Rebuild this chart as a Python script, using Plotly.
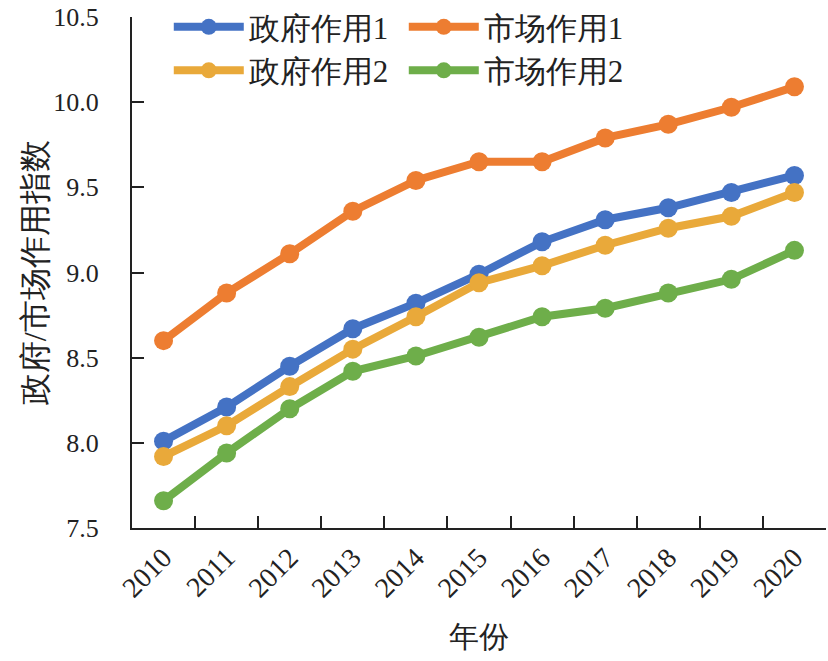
import plotly.graph_objects as go

years = ["2010", "2011", "2012", "2013", "2014", "2015", "2016", "2017", "2018", "2019", "2020"]
gov1 = [8.01, 8.21, 8.45, 8.67, 8.82, 8.99, 9.18, 9.31, 9.38, 9.47, 9.57]
mkt1 = [8.60, 8.88, 9.11, 9.36, 9.54, 9.65, 9.65, 9.79, 9.87, 9.97, 10.09]
gov2 = [7.92, 8.10, 8.33, 8.55, 8.74, 8.94, 9.04, 9.16, 9.26, 9.33, 9.47]
mkt2 = [7.66, 7.94, 8.20, 8.42, 8.51, 8.62, 8.74, 8.79, 8.88, 8.96, 9.13]

series = [
    ("政府作用1", gov1, "#4472C4", "legend"),
    ("市场作用1", mkt1, "#ED7D31", "legend"),
    ("政府作用2", gov2, "#E9A93A", "legend2"),
    ("市场作用2", mkt2, "#6EAE4A", "legend2"),
]

FONT = "Liberation Serif"

fig = go.Figure()
for name, vals, color, lg in series:
    fig.add_trace(go.Scatter(
        x=years, y=vals, name=name, mode="lines+markers",
        line=dict(color=color, width=8),
        marker=dict(color=color, size=19),
        legend=lg,
    ))

legend_common = dict(
    orientation="h", xref="paper", yref="paper", xanchor="left", yanchor="middle",
    font=dict(family=FONT, size=31, color="#222"), bgcolor="rgba(0,0,0,0)",
    entrywidth=150, itemwidth=70, tracegroupgap=0,
)

fig.update_layout(
    width=828, height=661,
    margin=dict(l=132, r=2, t=17, b=133, autoexpand=False),
    plot_bgcolor="white", paper_bgcolor="white",
    font=dict(family=FONT, size=26, color="#222"),
    showlegend=True,
    legend=dict(x=0.053, y=0.980, **legend_common),
    legend2=dict(x=0.053, y=0.895, **legend_common),
    xaxis=dict(
        type="category", tickson="boundaries", ticks="inside", ticklen=12,
        tickcolor="#222", tickwidth=1.5,
        showline=True, linecolor="#222", linewidth=2,
        tickangle=-45, tickfont=dict(family=FONT, size=28, color="#222"),
        title=dict(text="年份", font=dict(family=FONT, size=30), standoff=24),
        showgrid=False, range=[-0.5, 10.5], automargin=False,
    ),
    yaxis=dict(
        range=[7.5, 10.5], dtick=0.5, tickformat=".1f",
        ticks="inside", ticklen=12, tickcolor="#222", tickwidth=1.5,
        showline=True, linecolor="#222", linewidth=2,
        showgrid=False, zeroline=False, automargin=False,
        ticklabeloverflow="allow",
        tickfont=dict(family=FONT, size=26, color="#222"), ticklabelstandoff=26,
    ),
    annotations=[dict(
        text="政府/市场作用指数", textangle=-90, showarrow=False,
        xref="paper", yref="paper", x=-0.14, y=0.5, xanchor="center", yanchor="middle",
        font=dict(family=FONT, size=32, color="#222"),
    )],
)

fig.write_html("out.html", config={"displayModeBar": False},
               post_script="document.body.style.margin='0';")
